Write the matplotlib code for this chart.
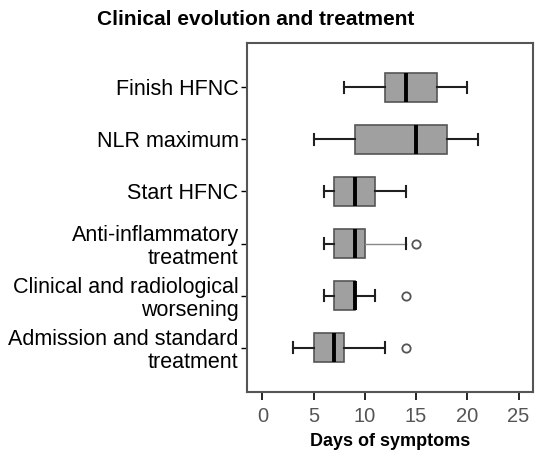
import matplotlib
matplotlib.use("Agg")
import matplotlib.pyplot as plt

plt.rcParams['font.family'] = ['Liberation Sans', 'DejaVu Sans']

# rows, bottom to top
labels = ["Admission and standard\ntreatment",
          "Clinical and radiological\nworsening",
          "Anti-inflammatory\ntreatment",
          "Start HFNC",
          "NLR maximum",
          "Finish HFNC"]
whislo = [3, 6, 6, 6, 5, 8]
q1 = [5, 7, 7, 7, 9, 12]
med = [7, 9, 9, 9, 15, 14]
q3 = [8, 9, 10, 11, 18, 17]
whishi = [12, 11, 14, 14, 21, 20]
fliers = [[14], [14], [15], [], [], []]

stats = []
for i in range(len(labels)):
    stats.append(dict(label=labels[i], whislo=whislo[i], q1=q1[i], med=med[i],
                      q3=q3[i], whishi=whishi[i], fliers=fliers[i]))

fig = plt.figure(figsize=(5.5, 4.62), dpi=100)
ax = fig.add_axes([0.449, 0.1515, 0.52, 0.7555])

bp = ax.bxp(stats, positions=range(1, 7), vert=False, widths=0.56, patch_artist=True,
            boxprops=dict(facecolor="#a0a0a0", edgecolor="#555555", linewidth=1.2),
            medianprops=dict(color="black", linewidth=2.8),
            whiskerprops=dict(color="#202020", linewidth=1.5),
            capprops=dict(color="#202020", linewidth=1.5),
            capwidths=0.22,
            flierprops=dict(marker="o", markerfacecolor="white", markeredgecolor="#555555",
                            markersize=6, markeredgewidth=1.3))
# upper whisker of the anti-inflammatory row is drawn thin and grey
bp["whiskers"][5].set_color("#888888")
bp["whiskers"][5].set_linewidth(1.0)

ax.set_xlim(-1.5, 26.4)
ax.set_ylim(0.15, 6.85)
ax.set_xticks([0, 5, 10, 15, 20, 25])
ax.tick_params(axis="x", labelsize=14.5, labelcolor="#555555", direction="out", length=6, width=1.2, pad=5)
ax.tick_params(axis="y", labelsize=15.5, direction="out", length=4, width=1, pad=2)
for s in ax.spines.values():
    s.set_color("#555555")
    s.set_linewidth(1.5)
for t in ax.get_yticklabels():
    t.set_linespacing(1.1)

ax.set_xlabel("Days of symptoms", fontsize=13, fontweight="bold", labelpad=5)
fig.text(0.465, 0.957, "Clinical evolution and treatment", ha="center", va="center",
         fontsize=15, fontweight="bold")

fig.savefig("out.png", dpi=100)
